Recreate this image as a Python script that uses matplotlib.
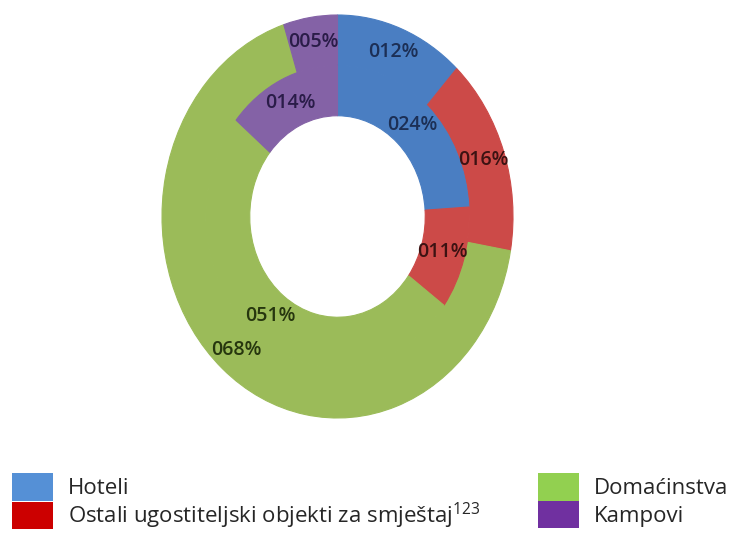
import matplotlib
matplotlib.use("Agg")
import matplotlib.pyplot as plt
from matplotlib.patches import Patch

plt.rcParams["font.family"] = ["Open Sans", "DejaVu Sans"]
plt.rcParams["mathtext.fontset"] = "custom"
plt.rcParams["mathtext.rm"] = "Open Sans"

# data
categories = ["Hoteli", "Ostali ugostiteljski objekti za smještaj$^{123}$",
              "Domaćinstva", "Kampovi"]
outer_values = [12, 16, 68, 5]
inner_values = [24, 11, 51, 14]

wedge_colors = ["#4A7EC2", "#CC4A48", "#9BBB59", "#8462A6"]
text_colors = ["#1C2F55", "#3C1212", "#26360E", "#2A1C48"]
legend_colors = ["#5590D6", "#CC0000", "#92D050", "#7030A0"]

fig = plt.figure(figsize=(7.34, 5.43), dpi=100)
ax = fig.add_axes([162 / 734, 1 - 418 / 543, 351 / 734, 403 / 543])

ring = dict(width=0.25, linewidth=0.8)
lbl = dict(ha="center", va="center", fontsize=14, fontweight="semibold")
outer, outer_txt = ax.pie(outer_values, radius=1.0, startangle=90, counterclock=False,
                          colors=wedge_colors, wedgeprops=ring,
                          labels=[f"{v:03d}%" for v in outer_values], labeldistance=0.875,
                          textprops=lbl)
inner, inner_txt = ax.pie(inner_values, radius=0.75, startangle=90, counterclock=False,
                          colors=wedge_colors, wedgeprops=ring,
                          labels=[f"{v:03d}%" for v in inner_values], labeldistance=0.625 / 0.75,
                          textprops=lbl)
for wedges in (outer, inner):
    for w, c in zip(wedges, wedge_colors):
        w.set_edgecolor(c)
for txts in (outer_txt, inner_txt):
    for t, c in zip(txts, text_colors):
        t.set_color(c)
        t.set_zorder(5)

ax.set_aspect("auto")
ax.set_xlim(-1, 1)
ax.set_ylim(-1, 1)
ax.axis("off")

handles = [Patch(facecolor=c, edgecolor="none") for c in legend_colors]
leg_kw = dict(frameon=False, fontsize=16, handlelength=1.85, handleheight=1.53,
              labelspacing=0.0, handletextpad=0.68, borderpad=0, borderaxespad=0,
              loc="upper left", labelcolor="#262626")
leg1 = fig.legend(handles[:2], categories[:2], bbox_to_anchor=(12 / 734, 1 - 473 / 543), **leg_kw)
leg2 = fig.legend(handles[2:], categories[2:], bbox_to_anchor=(538 / 734, 1 - 473 / 543), **leg_kw)

fig.savefig("out.png", dpi=100)
